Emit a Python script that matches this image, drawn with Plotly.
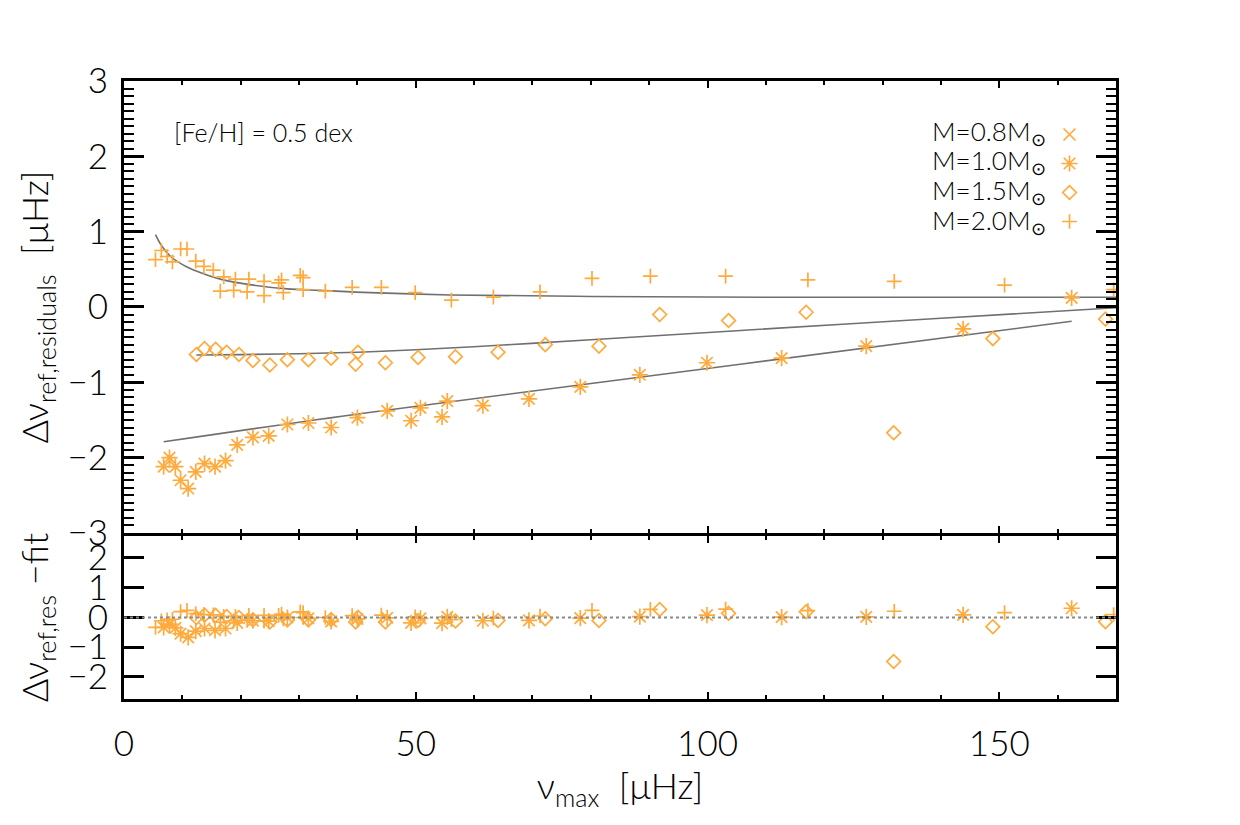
import plotly.graph_objects as go

# ---------------- data ----------------
# M = 2.0 Msun  (+)
nu_m20 = [5.4, 6.4, 7.4, 8.3, 9.7, 10.8, 12.3, 13.7, 15.3, 16.5, 17.1, 18.8, 19.1, 21.1, 21.4,
          24.0, 24.0, 26.5, 27.0, 27.3, 30.2, 30.7, 30.7, 34.5, 39.1, 44.1, 49.9, 56.1, 63.3,
          71.3, 80.2, 90.2, 103.1, 117.2, 132.0, 150.9, 169.6]
res_m20 = [0.63, 0.75, 0.67, 0.60, 0.77, 0.77, 0.61, 0.54, 0.49, 0.21, 0.40, 0.22, 0.37, 0.20, 0.37,
           0.34, 0.15, 0.32, 0.36, 0.19, 0.42, 0.39, 0.23, 0.21, 0.26, 0.26, 0.19, 0.09, 0.13,
           0.20, 0.38, 0.41, 0.41, 0.36, 0.34, 0.29, 0.23]
dfit_m20 = [-0.33, -0.11, -0.08, -0.06, 0.20, 0.24, 0.13, 0.10, 0.09, -0.16, 0.04, -0.11, 0.04, -0.10, 0.07,
            0.07, -0.12, 0.07, 0.11, -0.05, 0.19, 0.16, 0.00, 0.00, 0.06, 0.08, 0.02, -0.07, -0.02,
            0.05, 0.24, 0.27, 0.28, 0.23, 0.21, 0.16, 0.10]
fitnu_m20 = [5.4, 6.3, 8.0, 10.8, 13.7, 16.5, 22.2, 28.0, 33.7, 42.2, 56.0, 80.0, 110.0, 140.0, 170.0]
fit_m20 = [0.96, 0.83, 0.67, 0.53, 0.44, 0.37, 0.29, 0.24, 0.22, 0.19, 0.16, 0.14, 0.13, 0.13, 0.13]

# M = 1.5 Msun  (diamond)
nu_m15 = [12.4, 13.8, 15.7, 17.6, 19.7, 22.1, 25.0, 28.0, 31.6, 35.5, 39.7, 40.1, 44.8, 50.4,
          56.8, 64.1, 72.2, 81.4, 91.8, 103.6, 116.9, 131.9, 148.9, 168.2]
res_m15 = [-0.63, -0.55, -0.56, -0.60, -0.63, -0.71, -0.77, -0.70, -0.70, -0.68, -0.76, -0.60, -0.74, -0.67,
           -0.66, -0.60, -0.50, -0.52, -0.10, -0.18, -0.07, -1.67, -0.42, -0.16]
dfit_m15 = [0.00, 0.08, 0.07, 0.03, 0.00, -0.08, -0.15, -0.08, -0.08, -0.07, -0.15, 0.01, -0.15, -0.10,
            -0.12, -0.10, -0.04, -0.10, 0.27, 0.14, 0.19, -1.48, -0.31, -0.14]
fitnu_m15 = [12.4, 20.0, 30.0, 40.0, 50.0, 65.0, 80.0, 105.0, 140.0, 170.0]
fit_m15 = [-0.638, -0.632, -0.620, -0.600, -0.568, -0.505, -0.435, -0.315, -0.15, -0.01]

# M = 1.0 Msun  (asterisk)
nu_m10 = [6.8, 7.8, 8.8, 9.7, 11.0, 12.3, 13.8, 15.6, 17.4, 19.4, 22.1, 24.8, 28.0, 31.6, 35.5,
          40.0, 45.1, 49.2, 50.8, 54.5, 55.4, 61.5, 69.4, 78.2, 88.4, 99.9, 112.7, 127.2, 143.8, 162.4]
res_m10 = [-2.12, -2.00, -2.12, -2.30, -2.41, -2.19, -2.08, -2.12, -2.04, -1.83, -1.73, -1.71, -1.56, -1.54, -1.60,
           -1.47, -1.38, -1.51, -1.34, -1.46, -1.25, -1.31, -1.22, -1.06, -0.90, -0.74, -0.68, -0.52, -0.29, 0.12]
dfit_m10 = [-0.33, -0.22, -0.35, -0.54, -0.67, -0.46, -0.37, -0.43, -0.37, -0.18, -0.11, -0.12, 0.00, -0.03, -0.13,
            -0.05, -0.01, -0.18, -0.03, -0.19, 0.02, -0.11, -0.10, -0.02, 0.03, 0.08, 0.01, 0.02, 0.09, 0.31]
fitnu_m10 = [6.8, 42.0, 105.6, 162.4]
fit_m10 = [-1.79, -1.40, -0.76, -0.19]

# M = 0.8 Msun  (x) : no points shown at this metallicity
nu_m08 = [None]
res_m08 = [None]

labels = ["M=0.8M", "M=1.0M", "M=1.5M", "M=2.0M"]
x_ticks = [0, 50, 100, 150]

# ---------------- style ----------------
ORANGE = "#FFAA3C"
GREY = "#707070"
FONT = "Lato"

fig = go.Figure()


def mk(sym, size):
    return dict(symbol=sym, size=size, color=ORANGE,
                line=dict(color=ORANGE, width=1.7))


# fit lines (upper panel)
for fx, fy in [(fitnu_m20, fit_m20), (fitnu_m15, fit_m15), (fitnu_m10, fit_m10)]:
    fig.add_trace(go.Scatter(x=fx, y=fy, mode="lines", line=dict(color=GREY, width=1.6, shape="spline"),
                             xaxis="x2", yaxis="y2", showlegend=False, hoverinfo="skip"))

series = [
    (nu_m08, res_m08, [], "x-thin-open", 12),
    (nu_m10, res_m10, dfit_m10, "asterisk-open", 13.5),
    (nu_m15, res_m15, dfit_m15, "diamond-open", 10.5),
    (nu_m20, res_m20, dfit_m20, "cross-thin-open", 10.5),
]
for (nx, ry, dy, sym, sz) in series:
    fig.add_trace(go.Scatter(x=nx, y=ry, mode="markers", marker=mk(sym, sz), name=" ",
                             xaxis="x2", yaxis="y2", showlegend=True))
for (nx, ry, dy, sym, sz) in series:
    if len(dy):
        fig.add_trace(go.Scatter(x=nx, y=dy, mode="markers", marker=mk(sym, sz),
                                 xaxis="x", yaxis="y", showlegend=False))

PLOT_H = 825 - 81 - 126
LOW_TOP = 0.2638
UP_BOT = LOW_TOP + 3.0 / PLOT_H

axis_common = dict(showline=True, linewidth=3, linecolor="black", mirror="ticks", ticks="inside",
                   showgrid=False, zeroline=False, tickcolor="black")
TF = dict(size=35, weight=300)

fig.update_layout(
    width=1240, height=825, autosize=False,
    margin=dict(l=124, r=124, t=81, b=126),
    paper_bgcolor="white", plot_bgcolor="white",
    font=dict(family=FONT, color="black", weight=300),
    xaxis=dict(**axis_common, domain=[0, 1], range=[0, 170], anchor="y",
               tickvals=x_ticks, ticklen=7, tickwidth=2,
               minor=dict(dtick=10, ticklen=4, tickwidth=1.5, ticks="inside", tickcolor="black"),
               tickfont=TF, ticklabelstandoff=12,
               title=dict(text="ν<sub>max</sub>  [μHz]", font=dict(size=36, weight=300), standoff=8)),
    xaxis2=dict(**axis_common, domain=[0, 1], range=[0, 170], anchor="y2", matches="x",
                tickvals=x_ticks, ticklen=7, tickwidth=2, showticklabels=False,
                minor=dict(dtick=10, ticklen=4, tickwidth=1.5, ticks="inside", tickcolor="black")),
    yaxis=dict(**axis_common, domain=[0, LOW_TOP], range=[-2.74, 2.74], anchor="x",
               tickvals=[-2, -1, 0, 1, 2], ticklen=20, tickwidth=3,
               tickfont=TF, ticklabelstandoff=6,
               title=dict(text="Δν<sub>ref,res</sub> −fit", font=dict(size=36, weight=300), standoff=8)),
    yaxis2=dict(**axis_common, domain=[UP_BOT, 1], range=[-3, 3], anchor="x2",
                dtick=1, tick0=0, ticklen=20, tickwidth=3,
                minor=dict(dtick=0.1, ticklen=10, tickwidth=2, ticks="inside", tickcolor="black"),
                tickfont=TF, ticklabelstandoff=6,
                title=dict(text="Δν<sub>ref,residuals</sub>  [μHz]", font=dict(size=36, weight=300), standoff=8)),
    legend=dict(x=0.933, y=0.945, xanchor="left", yanchor="top", bgcolor="rgba(0,0,0,0)",
                font=dict(size=20), tracegroupgap=0, itemwidth=30),
    showlegend=True,
)

# zero line in the lower panel
fig.add_shape(type="line", xref="x domain", yref="y", x0=0, x1=1, y0=0, y1=0,
              line=dict(color="#8a8a8a", width=1.8, dash="dot"))

# annotations
fig.add_annotation(xref="paper", yref="paper", x=0.048, y=0.9175, xanchor="left", yanchor="middle",
                   text="[Fe/H] = 0.5 dex", showarrow=False, font=dict(size=25, weight=300))
row_y = [0.916, 0.869, 0.821, 0.773]
for lab, yy in zip(labels, row_y):
    fig.add_annotation(xref="paper", yref="paper", x=0.9315, y=yy, xanchor="right", yanchor="middle",
                       text=lab + "<sub>⊙</sub>", showarrow=False, font=dict(size=26, weight=300))

fig.write_html("out.html")
